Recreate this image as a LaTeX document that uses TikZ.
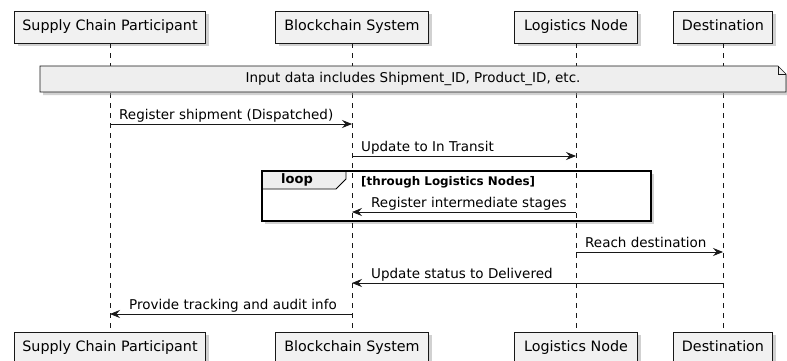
\documentclass[tikz,border=0pt]{standalone}
\usepackage{fontspec}
\setmainfont{DejaVu Sans}
\usetikzlibrary{arrows.meta,shadows}
\definecolor{lc}{HTML}{181818}
\definecolor{pf}{HTML}{F1F1F1}
\definecolor{nf}{HTML}{EEEEEE}
\tikzset{
  shad/.style={drop shadow={shadow xshift=3pt,shadow yshift=-3pt,fill=black!40,opacity=.45}},
  part/.style={draw=lc, fill=pf, line width=0.6pt, minimum height=32pt, inner xsep=0pt,
    font=\fontsize{14.3}{16}\selectfont, text height=10.5pt, text depth=3pt, shad},
  msg/.style={draw=lc, line width=0.8pt, -{Stealth[length=10pt,width=8pt,inset=3.5pt]}},
  lbl/.style={font=\fontsize{13.5}{15}\selectfont, inner sep=0pt, anchor=base west, text=black},
  life/.style={draw=lc, dash pattern=on 5pt off 5pt, line width=0.5pt},
}
\begin{document}
\begin{tikzpicture}[x=1pt,y=-1pt]
\useasboundingbox (0,0) rectangle (787,361);
% participants
\node[part, minimum width=191pt] (scpT) at (110,27) {Supply Chain Participant};
\node[part, minimum width=153pt] (bsT) at (352,27) {Blockchain System};
\node[part, minimum width=123pt] (lnT) at (576,27) {Logistics Node};
\node[part, minimum width=99pt] (dsT) at (723,27) {Destination};
\node[part, minimum width=191pt] (scpB) at (110,348) {Supply Chain Participant};
\node[part, minimum width=153pt] (bsB) at (352,348) {Blockchain System};
\node[part, minimum width=123pt] (lnB) at (576,348) {Logistics Node};
\node[part, minimum width=99pt] (dsB) at (723,348) {Destination};
% loop background (white with shadow)
\path[fill=white, shad] (262,171) rectangle (651,221);
% lifelines
\draw[life] (scpT.south) -- (scpB.north);
\draw[life] (bsT.south) -- (bsB.north);
\draw[life] (lnT.south) -- (lnB.north);
\draw[life] (dsT.south) -- (dsB.north);
% note
\path[draw=lc, fill=nf, line width=0.6pt, shad] (40,66) -- (778,66) -- (786,74) -- (786,92) -- (40,92) -- cycle;
\draw[lc, line width=0.6pt] (778,66) -- (778,74) -- (786,74);
\node[font=\fontsize{13.5}{15}\selectfont, inner sep=0pt] (note) at (413,79) {Input data includes Shipment\_ID, Product\_ID, etc.};
% message coordinates
\coordinate (m1a) at (scpT |- 0,124); \coordinate (m1b) at (bsT |- 0,124);
\coordinate (m2a) at (bsT |- 0,156);  \coordinate (m2b) at (lnT |- 0,156);
\coordinate (m3a) at (lnT |- 0,212);  \coordinate (m3b) at (bsT |- 0,212);
\coordinate (m4a) at (lnT |- 0,252);  \coordinate (m4b) at (dsT |- 0,252);
\coordinate (m5a) at (dsT |- 0,283);  \coordinate (m5b) at (bsT |- 0,283);
\coordinate (m6a) at (bsT |- 0,314);  \coordinate (m6b) at (scpT |- 0,314);
% messages
\draw[msg] (m1a) -- (m1b);
\node[lbl] (l1) at ([xshift=9pt,yshift=5pt]m1a) {Register shipment (Dispatched)};
\draw[msg] (m2a) -- (m2b);
\node[lbl] (l2) at ([xshift=9pt,yshift=5pt]m2a) {Update to In Transit};
% loop
\path[draw=black, line width=0.8pt, fill=nf] (262,171) -- (346,171) -- (346,179) -- (336,189) -- (262,189) -- cycle;
\draw[black, line width=1.6pt] (262,171) rectangle (651,221);
\node[font=\fontsize{13}{15}\bfseries, inner sep=0pt] (looplbl) at (297,180) {loop};
\node[font=\fontsize{11.9}{13}\bfseries, inner sep=0pt, anchor=base west] (guard) at (361,185) {[through Logistics Nodes]};
\draw[msg] (m3a) -- (m3b);
\node[lbl] (l3) at ([xshift=19pt,yshift=5pt]m3b) {Register intermediate stages};
\draw[msg] (m4a) -- (m4b);
\node[lbl] (l4) at ([xshift=9pt,yshift=5pt]m4a) {Reach destination};
\draw[msg] (m5a) -- (m5b);
\node[lbl] (l5) at ([xshift=19pt,yshift=5pt]m5b) {Update status to Delivered};
\draw[msg] (m6a) -- (m6b);
\node[lbl] (l6) at ([xshift=19pt,yshift=5pt]m6b) {Provide tracking and audit info};
\end{tikzpicture}
\end{document}
